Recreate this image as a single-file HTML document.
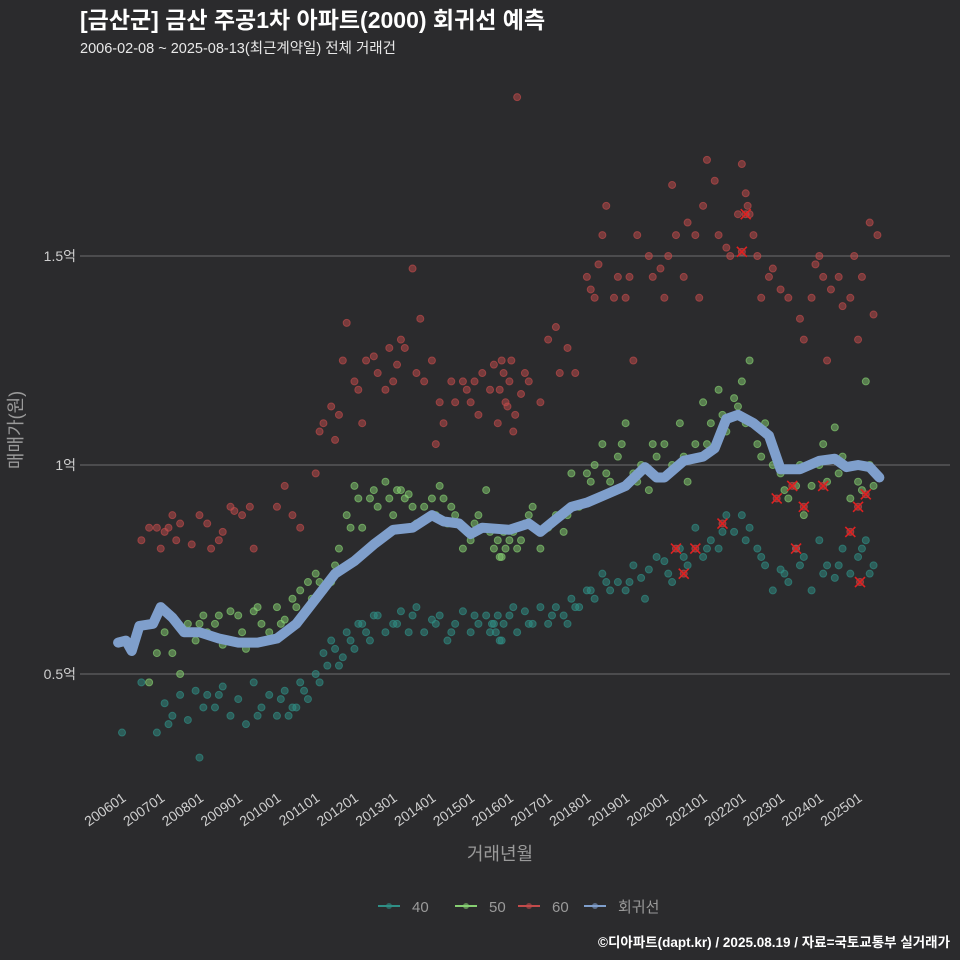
<!DOCTYPE html>
<html><head><meta charset="utf-8"><style>
html,body{margin:0;padding:0;background:#2b2b2d;}
svg{display:block;font-family:"Liberation Sans","Noto Sans CJK KR",sans-serif;}
</style></head><body>
<svg id="chart" width="960" height="960" xmlns="http://www.w3.org/2000/svg">
<rect width="960" height="960" fill="#2b2b2d"/>
<text x="80" y="28" fill="#ffffff" font-size="23" font-weight="bold">[금산군] 금산 주공1차 아파트(2000) 회귀선 예측</text>
<text x="80" y="53" fill="#e8e8e8" font-size="14.5">2006-02-08 ~ 2025-08-13(최근계약일) 전체 거래건</text>
<g id="grid"></g><g id="pts"></g><g id="line"></g><g id="axes"></g>
<text x="500" y="860" fill="#9a9a9a" font-size="18" text-anchor="middle">거래년월</text>
<text transform="translate(22,430) rotate(-90)" fill="#9a9a9a" font-size="18" text-anchor="middle">매매가(원)</text>
<g id="legend"></g>
<text x="950" y="947" fill="#ffffff" font-size="13.5" font-weight="bold" text-anchor="end">©디아파트(dapt.kr) / 2025.08.19 / 자료=국토교통부 실거래가</text>
</svg>
<script>
const yTicks=[0.5,1,1.5];
const yTickLabels=["0.5억","1억","1.5억"];
const xTickLabels=["200601","200701","200801","200901","201001","201101","201201","201301","201401","201501","201601","201701","201801","201901","202001","202101","202201","202301","202401","202501"];
const s60x=[2006.5,2006.7,2006.9,2007,2007.1,2007.2,2007.3,2007.4,2007.5,2007.8,2008,2008.2,2008.3,2008.5,2008.6,2008.8,2008.9,2009.1,2009.3,2009.4,2010,2010.2,2010.4,2010.6,2011,2011.1,2011.2,2011.4,2011.5,2011.7,2011.8,2012,2012.2,2012.3,2012.5,2012.6,2012.8,2013,2013.2,2013.3,2013.5,2013.6,2013.8,2014,2014.1,2014.3,2014.5,2014.6,2014.8,2015,2015.1,2015.3,2015.5,2015.6,2015.7,2015.8,2015.9,2016,2016.1,2016.2,2016.4,2016.5,2016.8,2017,2017.2,2017.3,2017.7,2018,2018.1,2018.2,2018.4,2018.5,2018.7,2018.8,2019,2019.2,2019.3,2019.6,2019.7,2019.9,2020,2020.2,2020.3,2020.5,2020.8,2020.9,2021.1,2021.3,2021.4,2021.7,2021.9,2022,2022.1,2022.2,2022.3,2022.5,2022.7,2022.8,2023.2,2023.5,2023.6,2023.8,2024,2024.1,2024.2,2024.5,2024.6,2024.8,2025,2025.1,2025.3,2025.4,2025.5,
2011.6,2012.1,2012.9,2013.1,2013.7,2014.2,2014.9,2015.2,2015.75,2015.85,2015.95,2016.05,2016.15,2016.3,2017.5,2018.3,2019.1,2020.1,2020.6,2021.0,2021.6,2022.15,2022.4,2023.0,2023.9,2024.3,2024.9];
const s60y=[0.82,0.85,0.85,0.80,0.84,0.85,0.88,0.82,0.86,0.81,0.88,0.86,0.80,0.82,0.84,0.90,0.89,0.88,0.90,0.80,0.90,0.95,0.88,0.85,0.98,1.08,1.10,1.14,1.06,1.25,1.34,1.20,1.10,1.25,1.26,1.22,1.18,1.20,1.30,1.28,1.47,1.22,1.20,1.25,1.05,1.10,1.20,1.15,1.20,1.15,1.20,1.22,1.18,1.24,1.10,1.25,1.15,1.20,1.08,1.88,1.22,1.20,1.15,1.30,1.33,1.22,1.22,1.45,1.42,1.40,1.55,1.62,1.40,1.45,1.40,1.25,1.55,1.50,1.45,1.47,1.40,1.67,1.55,1.45,1.55,1.40,1.73,1.68,1.55,1.50,1.60,1.72,1.65,1.60,1.55,1.40,1.45,1.47,1.40,1.35,1.30,1.40,1.50,1.45,1.25,1.45,1.38,1.40,1.30,1.45,1.58,1.36,1.55,
1.12,1.18,1.28,1.24,1.35,1.15,1.18,1.12,1.18,1.22,1.14,1.25,1.12,1.17,1.28,1.48,1.45,1.50,1.58,1.62,1.52,1.62,1.50,1.42,1.48,1.42,1.50];
const s60xr=[2020.3,2020.5,2020.8,2021.5,2022,2022.1,2022.9,2023.3,2023.4,2023.6,2024.1,2024.8,2025,2025.05,2025.2];
const s60yr=[0.80,0.74,0.80,0.86,1.51,1.60,0.92,0.95,0.80,0.90,0.95,0.84,0.90,0.72,0.93];
const s50x=[2006.7,2006.9,2007.1,2007.3,2007.5,2007.7,2007.9,2008.1,2008.2,2008.4,2008.6,2008.8,2009,2009.2,2009.4,2009.6,2009.8,2010,2010.2,2010.4,2010.6,2010.8,2011,2011.2,2011.4,2011.6,2011.8,2012,2012.2,2012.4,2012.6,2012.8,2013,2013.2,2013.4,2013.6,2013.8,2014,2014.2,2014.4,2014.6,2014.8,2015,2015.2,2015.4,2015.6,2015.8,2016,2016.2,2016.4,2016.6,2016.8,2017,2017.2,2017.4,2017.6,2017.8,2018,2018.2,2018.4,2018.6,2018.8,2019,2019.2,2019.4,2019.6,2019.8,2020,2020.2,2020.4,2020.6,2020.8,2021,2021.2,2021.4,2021.6,2021.8,2022,2022.2,2022.4,2022.6,2022.8,2023,2023.2,2023.4,2023.6,2023.8,2024,2024.2,2024.4,2024.6,2024.8,2025,2025.2,2025.4,
2008.0,2008.5,2009.1,2009.5,2010.1,2010.5,2010.9,2011.1,2011.5,2011.9,2012.1,2012.5,2012.9,2013.1,2013.3,2013.5,2014.1,2014.3,2014.5,2014.9,2015.1,2015.5,2015.7,2015.75,2015.85,2015.9,2016.1,2016.3,2016.5,2017.1,2017.5,2018.1,2018.5,2018.9,2019.3,2019.7,2020.1,2020.5,2021.1,2021.5,2021.9,2022.1,2022.5,2023.1,2023.5,2024.1,2024.5,2025.1,2025.3];
const s50y=[0.48,0.55,0.60,0.55,0.50,0.62,0.58,0.64,0.60,0.62,0.57,0.65,0.64,0.56,0.65,0.62,0.60,0.66,0.63,0.68,0.70,0.72,0.74,0.70,0.72,0.80,0.88,0.95,0.85,0.92,0.90,0.96,0.88,0.94,0.93,0.86,0.90,0.92,0.95,0.86,0.88,0.80,0.82,0.88,0.94,0.80,0.78,0.82,0.80,0.86,0.90,0.80,0.85,0.88,0.84,0.98,0.90,0.98,1.00,1.05,0.96,1.02,1.10,0.98,1.00,0.94,1.02,1.05,1.00,1.10,0.96,1.05,1.15,1.10,1.18,1.08,1.16,1.20,1.25,1.05,1.10,1.00,0.98,0.92,0.95,0.88,0.95,1.00,0.96,1.09,1.02,0.92,0.96,1.20,0.95,
0.62,0.64,0.60,0.66,0.62,0.66,0.68,0.72,0.76,0.85,0.92,0.94,0.92,0.94,0.92,0.90,0.88,0.92,0.90,0.84,0.86,0.84,0.82,0.78,0.84,0.80,0.84,0.82,0.88,0.86,0.88,0.96,0.98,1.05,0.96,1.05,0.98,1.02,1.05,1.12,1.14,1.10,1.02,0.94,1.00,1.05,0.98,0.94,1.00];
const s40x=[2006,2006.5,2006.9,2007.1,2007.3,2007.5,2007.7,2007.9,2008,2008.2,2008.4,2008.6,2008.8,2009,2009.2,2009.4,2009.6,2009.8,2010,2010.2,2010.4,2010.6,2010.8,2011,2011.2,2011.4,2011.6,2011.8,2012,2012.2,2012.4,2012.6,2012.8,2013,2013.2,2013.4,2013.6,2013.8,2014,2014.2,2014.4,2014.6,2014.8,2015,2015.2,2015.4,2015.5,2015.6,2015.8,2016,2016.2,2016.4,2016.6,2016.8,2017,2017.2,2017.4,2017.6,2017.8,2018,2018.2,2018.4,2018.6,2018.8,2019,2019.2,2019.4,2019.6,2019.8,2020,2020.2,2020.4,2020.6,2020.8,2021,2021.2,2021.4,2021.6,2021.8,2022,2022.2,2022.4,2022.6,2022.8,2023,2023.2,2023.4,2023.6,2023.8,2024,2024.2,2024.4,2024.6,2024.8,2025,2025.2,2025.4,
2007.2,2008.1,2008.5,2009.5,2010.1,2010.3,2010.5,2010.7,2011.1,2011.3,2011.5,2011.7,2011.9,2012.1,2012.3,2012.5,2013.1,2013.5,2014.1,2014.5,2015.1,2015.55,2015.65,2015.7,2015.75,2015.85,2016.1,2016.5,2017.1,2017.5,2017.7,2018.1,2018.5,2019.1,2019.5,2020.1,2020.5,2021.1,2021.5,2022.1,2022.5,2023.1,2023.5,2024.1,2024.5,2025.1,2025.3];
const s40y=[0.36,0.48,0.36,0.43,0.40,0.45,0.39,0.46,0.30,0.45,0.42,0.47,0.40,0.44,0.38,0.48,0.42,0.45,0.40,0.46,0.42,0.48,0.44,0.50,0.55,0.58,0.52,0.60,0.56,0.62,0.58,0.64,0.60,0.62,0.65,0.60,0.66,0.60,0.63,0.64,0.58,0.62,0.65,0.60,0.62,0.64,0.60,0.62,0.58,0.64,0.60,0.65,0.62,0.66,0.62,0.66,0.64,0.68,0.66,0.70,0.68,0.74,0.70,0.72,0.70,0.76,0.73,0.75,0.78,0.77,0.72,0.80,0.76,0.85,0.78,0.82,0.80,0.88,0.84,0.88,0.85,0.80,0.76,0.70,0.75,0.72,0.80,0.78,0.70,0.82,0.76,0.73,0.80,0.74,0.78,0.82,0.76,
0.38,0.42,0.45,0.40,0.44,0.40,0.42,0.46,0.48,0.52,0.56,0.54,0.58,0.62,0.60,0.64,0.62,0.64,0.62,0.60,0.64,0.62,0.60,0.64,0.58,0.62,0.66,0.62,0.64,0.62,0.66,0.70,0.72,0.72,0.68,0.74,0.78,0.80,0.84,0.82,0.78,0.74,0.76,0.74,0.76,0.80,0.74];
const regX=[2005.9,2006.1,2006.25,2006.45,2006.8,2007.0,2007.3,2007.6,2008,2008.5,2009,2009.5,2010,2010.5,2011,2011.5,2012,2012.5,2013,2013.5,2014,2014.3,2014.7,2015,2015.3,2016,2016.5,2016.8,2017.2,2017.6,2018,2018.5,2019,2019.5,2019.8,2020,2020.5,2021,2021.3,2021.6,2021.9,2022.3,2022.7,2023,2023.5,2024,2024.4,2024.7,2025,2025.3,2025.55];
const regY=[0.575,0.58,0.555,0.615,0.62,0.66,0.635,0.60,0.60,0.585,0.575,0.575,0.585,0.62,0.68,0.74,0.77,0.81,0.845,0.85,0.88,0.865,0.86,0.835,0.85,0.845,0.86,0.84,0.87,0.90,0.91,0.93,0.95,0.995,0.97,0.97,1.01,1.02,1.04,1.11,1.12,1.10,1.07,0.99,0.99,1.01,1.015,0.995,1.0,0.995,0.97];
const NS="http://www.w3.org/2000/svg";
const X=t=>122+(t-2006)*38.74;
const Y=v=>465-(v-1)*418;
function mk(tag,at,parent){const e=document.createElementNS(NS,tag);for(const k in at)e.setAttribute(k,at[k]);document.getElementById(parent).appendChild(e);return e;}
yTicks.forEach((v,i)=>{
 const l=mk('line',{x1:80,x2:950,y1:Y(v),y2:Y(v),stroke:'#6e6e6e','stroke-width':1},'grid');
 
 
 const t=mk('text',{x:76,y:Y(v)+5,fill:'#cfcfcf','font-size':14,'text-anchor':'end'},'axes');
 t.textContent=yTickLabels[i];
 
 
});
xTickLabels.forEach((s,i)=>{
 const x=X(2006+i);
 const t=mk('text',{transform:`translate(${x+5},${800}) rotate(-35)`,fill:'#cfcfcf','font-size':14,'text-anchor':'end'},'axes');
 t.textContent=s;
 
 
});
function scatter(xs,ys,col,name){xs.forEach((x,i)=>{
 const c=mk('circle',{cx:X(x),cy:Y(ys[i]),r:3.5,fill:col,'fill-opacity':0.5,stroke:col,'stroke-opacity':0.65},'pts');
 
 
});}
scatter(s40x,s40y,'#2f8f86','point-40');
scatter(s50x,s50y,'#86cf72','point-50');
scatter(s60x,s60y,'#c24b4b','point-60');
scatter(s60xr,s60yr,'#c24b4b','point-60-recent');
s60xr.forEach((x,i)=>{
 const cx=X(x),cy=Y(s60yr[i]);
 const p=mk('path',{d:`M${cx-5},${cy-5}L${cx+5},${cy+5}M${cx-5},${cy+5}L${cx+5},${cy-5}`,stroke:'#e02020','stroke-width':1.6},'pts');
 
 
});
const d=regX.map((x,i)=>(i?'L':'M')+X(x).toFixed(1)+','+Y(regY[i]).toFixed(1)).join('');
const rl=mk('path',{d:d,fill:'none',stroke:'#7f9fcc','stroke-width':10,'stroke-linejoin':'round','stroke-linecap':'round'},'line');


const leg=[['40','#2f8f86',378],['50','#86cf72',455],['60','#c24b4b',518],['회귀선','#7f9fcc',584]];
leg.forEach(([lab,col,x])=>{
 const g=mk('g',{},'legend');
 
 
 const ln=document.createElementNS(NS,'line');ln.setAttribute('x1',x);ln.setAttribute('x2',x+22);ln.setAttribute('y1',906);ln.setAttribute('y2',906);ln.setAttribute('stroke',col);ln.setAttribute('stroke-width',2);g.appendChild(ln);
 const c=document.createElementNS(NS,'circle');c.setAttribute('cx',x+11);c.setAttribute('cy',906);c.setAttribute('r',3);c.setAttribute('fill',col);c.setAttribute('fill-opacity',0.6);g.appendChild(c);
 const t=document.createElementNS(NS,'text');t.setAttribute('x',x+34);t.setAttribute('y',912);t.setAttribute('fill','#9a9a9a');t.setAttribute('font-size',15);t.textContent=lab;g.appendChild(t);
});
</script>
</body></html>
